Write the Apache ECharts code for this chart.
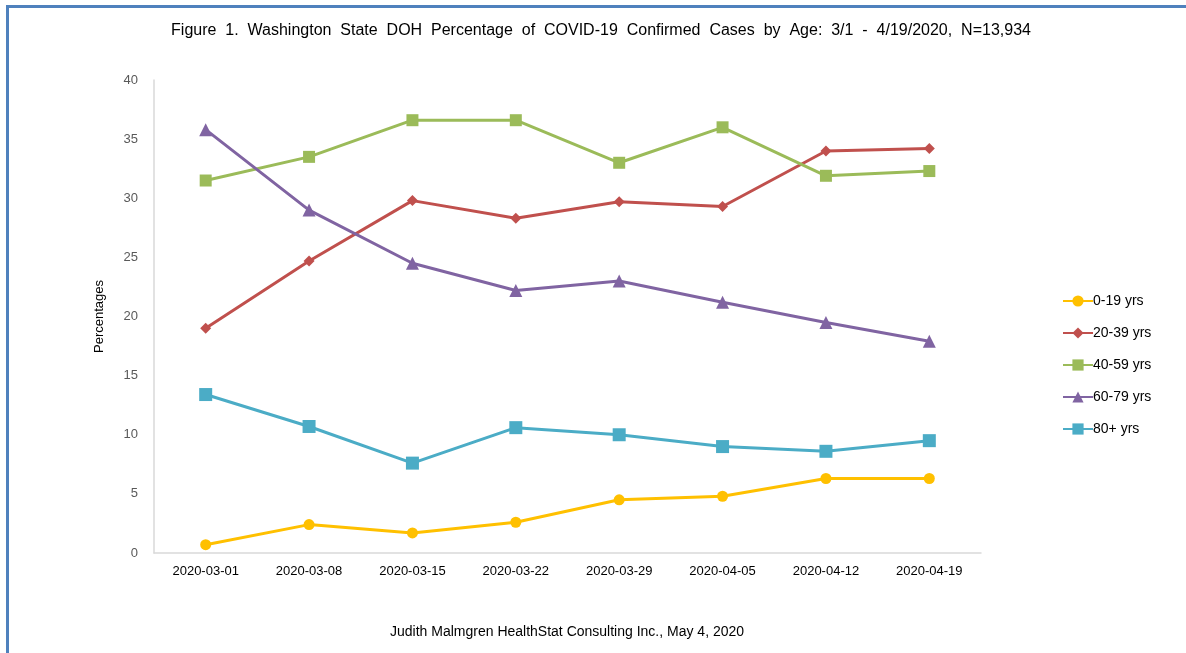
<!DOCTYPE html>
<html>
<head>
<meta charset="utf-8">
<title>Washington State DOH COVID-19 Cases by Age</title>
<script src="https://cdn.jsdelivr.net/npm/echarts@6/dist/echarts.min.js"></script>
<style>
    html, body { margin: 0; padding: 0; background: #fff; overflow: hidden; }
    .frame {
        position: absolute;
        left: 6px; top: 5px;
        width: 1190px; height: 660px;
        border-left: 3px solid #4F81BD;
        border-top: 3px solid #4F81BD;
    }
    #chart { position: absolute; left: 0; top: 0; width: 1186px; height: 653px; }
</style>
</head>
<body>
<div class="frame"></div>
<div id="chart"></div>
<script>
    var weeks = ['2020-03-01', '2020-03-08', '2020-03-15', '2020-03-22', '2020-03-29', '2020-04-05', '2020-04-12', '2020-04-19']
    var age0to19 = [0.7, 2.4, 1.7, 2.6, 4.5, 4.8, 6.3, 6.3]
    var age20to39 = [19.0, 24.7, 29.8, 28.3, 29.7, 29.3, 34.0, 34.2]
    var age40to59 = [31.5, 33.5, 36.6, 36.6, 33.0, 36.0, 31.9, 32.3]
    var age60to79 = [35.8, 29.0, 24.5, 22.2, 23.0, 21.2, 19.5, 17.9]
    var age80plus = [13.4, 10.7, 7.6, 10.6, 10.0, 9.0, 8.6, 9.5]

    var font = 'Liberation Sans, Arial, sans-serif'
    // the original title is set with wide word spacing
    var titleText = 'Figure 1. Washington State DOH Percentage of COVID-19 Confirmed Cases by Age: 3/1 - 4/19/2020, N=13,934'.split(' ').join('  ')

    function line(name, data, color, symbol, size) {
        return {
            name: name,
            type: 'line',
            data: data,
            symbol: symbol,
            symbolSize: size,
            lineStyle: { color: color, width: 3 },
            itemStyle: { color: color },
            emphasis: { disabled: true }
        }
    }

    var chart = echarts.init(document.getElementById('chart'))
    chart.setOption({
        animation: false,
        title: {
            text: titleText,
            left: 596,
            textAlign: 'center',
            top: 18,
            textStyle: { fontFamily: font, fontSize: 16, fontWeight: 'normal', color: '#000' }
        },
        graphic: [{
            type: 'text',
            left: 390,
            top: 625,
            style: { text: 'Judith Malmgren HealthStat Consulting Inc., May 4, 2020', font: '14px ' + font, fill: '#000' }
        }],
        legend: {
            orient: 'vertical',
            left: 1057,
            top: 289,
            itemGap: 18,
            itemWidth: 30,
            itemHeight: 14,
            textStyle: { fontFamily: font, fontSize: 14, color: '#000', padding: [0, 0, 0, -5] },
            data: ['0-19 yrs', '20-39 yrs', '40-59 yrs', '60-79 yrs', '80+ yrs']
        },
        grid: { left: 154, top: 80, width: 827, height: 473 },
        xAxis: {
            type: 'category',
            data: weeks,
            boundaryGap: true,
            axisLine: { lineStyle: { color: '#D9D9D9', width: 1.5 } },
            axisTick: { show: false },
            axisLabel: { fontFamily: font, fontSize: 13, color: '#000', margin: 12 }
        },
        yAxis: {
            type: 'value',
            min: 0, max: 40, interval: 5,
            name: 'Percentages',
            nameLocation: 'middle',
            nameGap: 48,
            nameTextStyle: { fontFamily: font, fontSize: 13, color: '#000' },
            axisLine: { show: true, lineStyle: { color: '#D9D9D9', width: 1.5 } },
            axisTick: { show: false },
            splitLine: { show: false },
            axisLabel: { fontFamily: font, fontSize: 13, color: '#595959', margin: 16 }
        },
        series: [
            line('0-19 yrs', age0to19, '#FFC000', 'circle', 11),
            line('20-39 yrs', age20to39, '#C0504D', 'diamond', 11),
            line('40-59 yrs', age40to59, '#9BBB59', 'rect', 12),
            line('60-79 yrs', age60to79, '#8064A2', 'triangle', 13),
            line('80+ yrs', age80plus, '#4BACC6', 'rect', 13)
        ]
    })
</script>
</body>
</html>
